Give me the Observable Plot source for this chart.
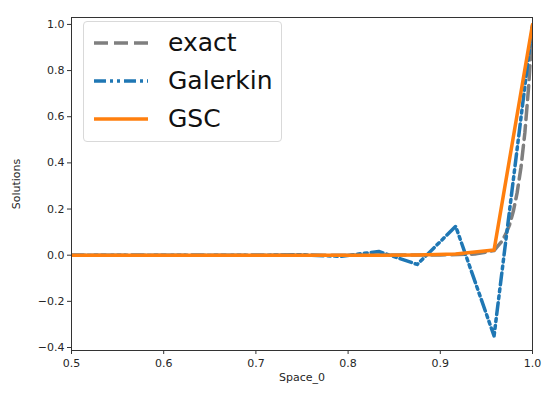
<!DOCTYPE html>
<html>
<head>
<meta charset="utf-8">
<script src="https://cdn.jsdelivr.net/npm/d3@7"></script>
<script src="https://cdn.jsdelivr.net/npm/@observablehq/plot@0.6"></script>
<style>
  html, body { margin: 0; padding: 0; background: #fff; }
  #wrap { position: relative; width: 542px; height: 397px; font-family: "DejaVu Sans", sans-serif; }
  #legend { position: absolute; left: 83px; top: 21px; width: 199px; height: 121px;
    border: 1px solid #d9d9d9; border-radius: 4px; background: rgba(255,255,255,0.8); box-sizing: border-box; }
  #legend .row { position: absolute; left: 0; height: 30px; display: flex; align-items: center; }
  #legend .row span { font-size: 25px; color: #111; margin-left: 19px; line-height: 30px; }
  #legend svg { margin-left: 9px; }
</style>
</head>
<body>
<div id="wrap"></div>
<script>
// Galerkin nodes and values
const galerkinX = [0.5, 0.5417, 0.5833, 0.625, 0.6667, 0.7083, 0.75, 0.7917, 0.8333, 0.875, 0.9167, 0.9583, 1.0];
const galerkinY = [0, 0, 0, 0, 0, 0, 0.002, -0.005, 0.016, -0.04, 0.125, -0.35, 1.0];
// GSC values on same nodes
const gscX = [0.5, 0.5417, 0.5833, 0.625, 0.6667, 0.7083, 0.75, 0.7917, 0.8333, 0.875, 0.9167, 0.9583, 1.0];
const gscY = [0, 0, 0, 0, 0, 0, 0, 0, 0, 0.001, 0.005, 0.022, 1.0];
// exact solution (finer sampling near the boundary layer)
const exactX = [0.5, 0.6, 0.7, 0.8, 0.9, 0.9375, 0.9583, 0.9625, 0.9667, 0.9708, 0.975, 0.9792, 0.9833, 0.9875, 0.9917, 0.9958, 1.0];
const exactY = [0, 0, 0, 0, 0.001, 0.005, 0.02, 0.04, 0.06, 0.09, 0.13, 0.19, 0.27, 0.38, 0.53, 0.73, 1.0];

const xTicks = [0.5, 0.6, 0.7, 0.8, 0.9, 1.0];
const yTicks = [-0.4, -0.2, 0.0, 0.2, 0.4, 0.6, 0.8, 1.0];

const series = [
  {name: "exact", xs: exactX, ys: exactY, color: "#7f7f7f", dash: "14,6", width: 3.5},
  {name: "Galerkin", xs: galerkinX, ys: galerkinY, color: "#1f77b4", dash: "12,4,3,4,3,4", width: 3.5},
  {name: "GSC", xs: gscX, ys: gscY, color: "#ff7f0e", dash: null, width: 3.5}
];

const marks = [];
for (const s of series) {
  const data = s.xs.map((x, i) => ({x, y: s.ys[i]}));
  marks.push(Plot.line(data, {x: "x", y: "y", stroke: s.color, strokeWidth: s.width,
    strokeDasharray: s.dash || undefined, strokeLinejoin: "round", clip: true}));
}

const fmt = d => d < 0 ? "\u2212" + Math.abs(d).toFixed(1) : d.toFixed(1);

const plot = Plot.plot({
  width: 542,
  height: 397,
  marginLeft: 71,
  marginRight: 10,
  marginTop: 17,
  marginBottom: 47,
  style: {fontFamily: "DejaVu Sans, sans-serif", fontSize: "11px", color: "#262626", background: "#fff", overflow: "visible"},
  x: {domain: [0.5, 1.0]},
  y: {domain: [-0.413, 1.03]},
  marks: [
    ...marks,
    Plot.frame({stroke: "#333", strokeWidth: 1}),
    Plot.axisX({ticks: xTicks, tickFormat: fmt, tickSize: 4, tickPadding: 5, stroke: "#333",
      label: "Space_0", labelAnchor: "center", labelOffset: 30, labelArrow: "none", fontSize: 11}),
    Plot.axisY({ticks: yTicks, tickFormat: fmt, tickSize: 4, tickPadding: 3, stroke: "#333",
      label: "Solutions", labelAnchor: "center", labelOffset: 59, labelArrow: "none", fontSize: 11})
  ]
});

const wrap = document.getElementById("wrap");
wrap.appendChild(plot);

const legend = document.createElement("div");
legend.id = "legend";
series.forEach((s, i) => {
  const row = document.createElement("div");
  row.className = "row";
  row.style.top = (6 + i * 38) + "px";
  const ns = "http://www.w3.org/2000/svg";
  const svg = document.createElementNS(ns, "svg");
  svg.setAttribute("width", "56");
  svg.setAttribute("height", "10");
  const ln = document.createElementNS(ns, "line");
  ln.setAttribute("x1", "1"); ln.setAttribute("x2", "55");
  ln.setAttribute("y1", "5"); ln.setAttribute("y2", "5");
  ln.setAttribute("stroke", s.color);
  ln.setAttribute("stroke-width", s.width);
  if (s.dash) ln.setAttribute("stroke-dasharray", s.dash);
  svg.appendChild(ln);
  row.appendChild(svg);
  const t = document.createElement("span");
  t.textContent = s.name;
  row.appendChild(t);
  legend.appendChild(row);
});
wrap.appendChild(legend);
</script>
</body>
</html>
